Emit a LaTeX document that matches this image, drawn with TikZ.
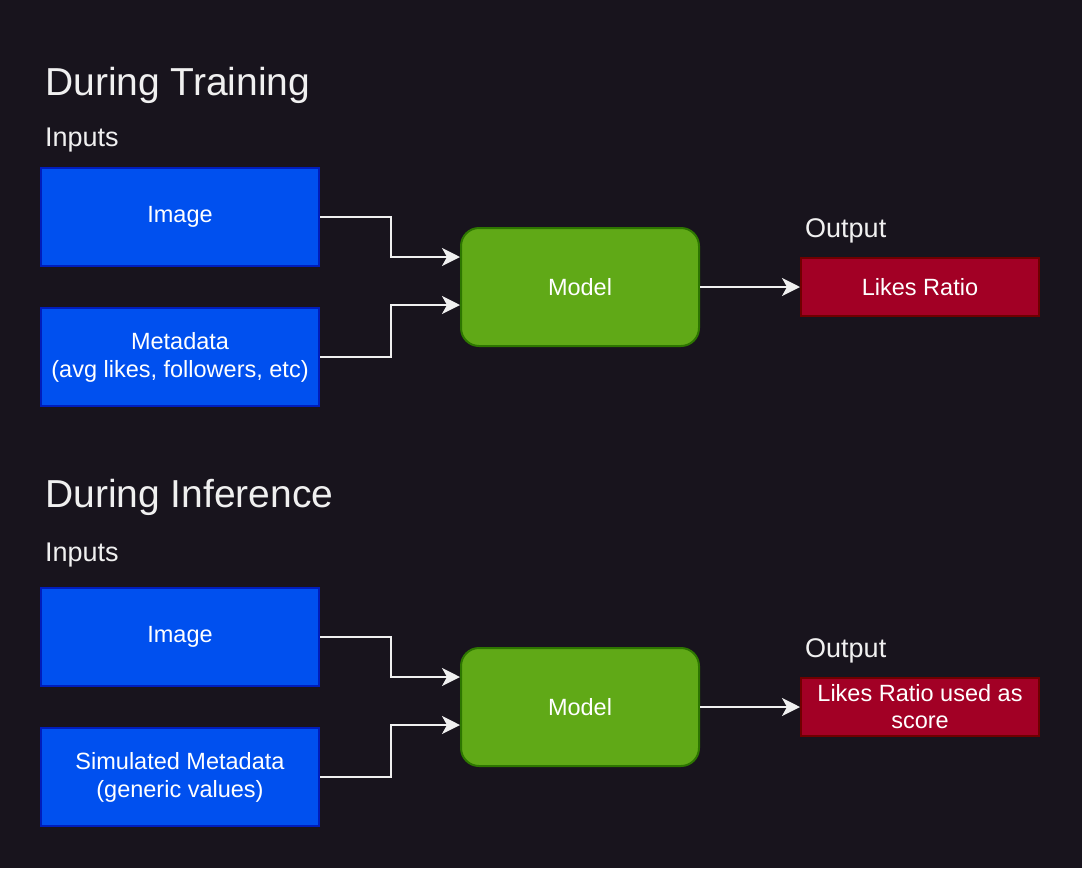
\documentclass[tikz,border=0pt]{standalone}
\usepackage{fontspec}
\setmainfont{Liberation Sans}
\usetikzlibrary{arrows.meta}
\definecolor{bg}{HTML}{18141D}
\definecolor{txt}{HTML}{F0F0F0}
\definecolor{bluef}{HTML}{0050EF}
\definecolor{blued}{HTML}{001DBC}
\definecolor{greenf}{HTML}{60A917}
\definecolor{greend}{HTML}{2D7600}
\definecolor{redf}{HTML}{A20025}
\definecolor{redd}{HTML}{6F0000}
\tikzset{
  inbox/.style={draw=blued, fill=bluef, line width=2pt, minimum width=278pt, minimum height=98pt, inner sep=0pt, text=white, align=center, font=\fontsize{23.5}{28}\selectfont},
  modelbox/.style={draw=greend, fill=greenf, line width=2pt, rounded corners=18pt, minimum width=238pt, minimum height=118pt, inner sep=0pt, text=white, font=\fontsize{23.5}{28}\selectfont},
  outbox/.style={draw=redd, fill=redf, line width=2pt, minimum width=238pt, minimum height=58pt, inner sep=0pt, text=white, align=center, font=\fontsize{23.5}{27}\selectfont},
  title/.style={anchor=base west, inner sep=0pt, text=txt, font=\fontsize{39}{44}\selectfont},
  label/.style={anchor=base west, inner sep=0pt, text=txt, font=\fontsize{27}{32}\selectfont},
  conn/.style={draw=txt, line width=2pt, -{Stealth[length=18pt,width=18pt,inset=5pt]}},
}
\begin{document}
\begin{tikzpicture}[x=1pt,y=-1pt]
\fill[bg] (0,0) rectangle (1082,868);
\useasboundingbox (0,0) rectangle (1082,868);
% Training
\node[title] (t1) at (45,95) {During Training};
\node[label] (in1) at (45,146) {Inputs};
\node[label] (o1) at (805,237) {Output};
\node[inbox] (img1) at (180,217) {Image};
\node[inbox] (meta1) at (180,357) {Metadata\\(avg likes, followers, etc)};
\node[modelbox] (mod1) at (580,287) {Model};
\node[outbox] (out1) at (920,287) {Likes Ratio};
\coordinate (a1) at (460,257);
\coordinate (b1) at (460,305);
\draw[conn] (img1.east) -- (391,217) |- (a1);
\draw[conn] (meta1.east) -- (391,357) |- (b1);
\draw[conn] (mod1.east) -- (out1.west);
% Inference
\node[title] (t2) at (45,507) {During Inference};
\node[label] (in2) at (45,561) {Inputs};
\node[label] (o2) at (805,657) {Output};
\node[inbox] (img2) at (180,637) {Image};
\node[inbox] (meta2) at (180,777) {Simulated Metadata\\(generic values)};
\node[modelbox] (mod2) at (580,707) {Model};
\node[outbox] (out2) at (920,707) {Likes Ratio used as\\score};
\coordinate (a2) at (460,677);
\coordinate (b2) at (460,725);
\draw[conn] (img2.east) -- (391,637) |- (a2);
\draw[conn] (meta2.east) -- (391,777) |- (b2);
\draw[conn] (mod2.east) -- (out2.west);
\end{tikzpicture}
\end{document}
